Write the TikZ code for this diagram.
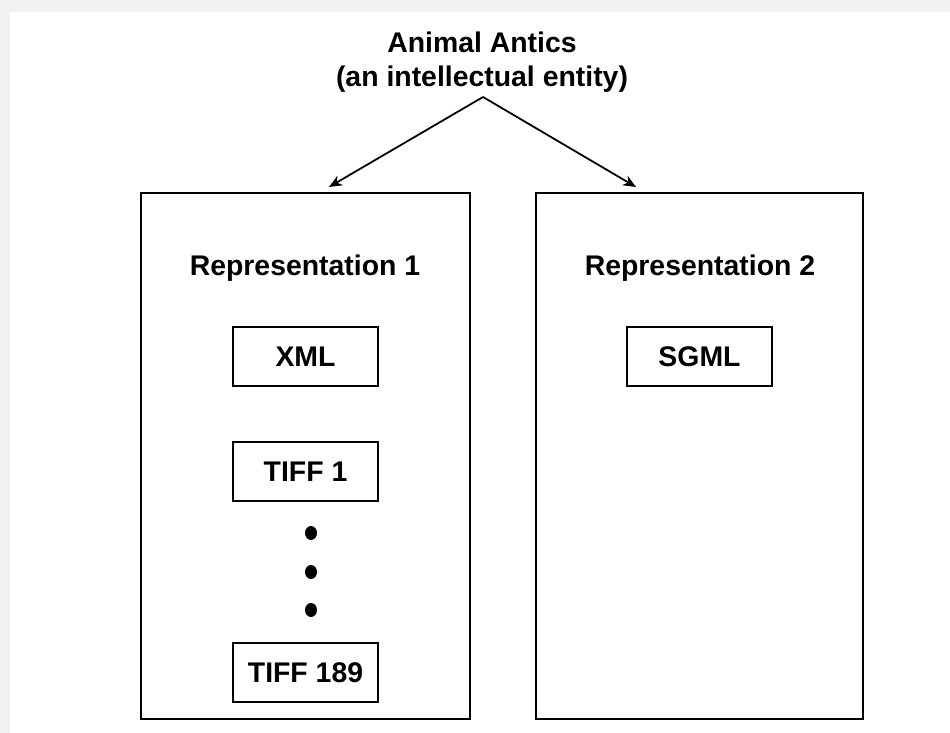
\documentclass[tikz,border=0pt]{standalone}
\usepackage{fontspec}
\setmainfont{Liberation Sans}
\usetikzlibrary{arrows.meta,shapes.geometric}
\definecolor{bggray}{HTML}{F1F1F1}
\begin{document}
\begin{tikzpicture}[x=1pt,y=-1pt,
  txt/.style={font=\fontsize{28.4}{34}\selectfont\bfseries, inner sep=0pt},
  outerbox/.style={draw, line width=2.4pt},
  innerbox/.style={draw, line width=2pt, minimum width=145pt, minimum height=59pt,
    inner sep=0pt, text height=20.3pt, text depth=0pt,
    font=\fontsize{28.4}{34}\selectfont\bfseries},
  dotmark/.style={fill=black, draw=none, ellipse, minimum width=12pt, minimum height=14pt, inner sep=0pt},
  conn/.style={line width=1.8pt, -{Stealth[length=13pt,width=11pt]}}]
\useasboundingbox (0,0) rectangle (950,733);
\fill[bggray] (0,0) rectangle (950,733);
\fill[white] (10,12) rectangle (950,733);
% title
\node[txt, anchor=base] (title1) at (482,53) {Animal Antics};
\node[txt, anchor=base] (title2) at (482,87) {(an intellectual entity)};
% outer boxes
\node[outerbox, minimum width=329pt, minimum height=526pt, inner sep=0pt] (rep1) at (305.5,456) {};
\node[outerbox, minimum width=327pt, minimum height=526pt, inner sep=0pt] (rep2) at (699.5,456) {};
\node[txt, anchor=base] (rep1label) at (305,275) {Representation 1};
\node[txt, anchor=base] (rep2label) at (700,275) {Representation 2};
% inner boxes
\node[innerbox] (xml) at (305.5,356.5) {XML};
\node[innerbox] (tiff1) at (305.5,471.5) {TIFF 1};
\node[innerbox] (tiff189) at (305.5,672.5) {TIFF 189};
\node[innerbox] (sgml) at (699.5,356.5) {SGML};
% dots
\node[dotmark] (d1) at (311,533) {};
\node[dotmark] (d2) at (311,572) {};
\node[dotmark] (d3) at (311,610) {};
% connectors
\coordinate (apex) at (483,97);
\coordinate (a1) at (329,187);
\coordinate (a2) at (636,187);
\draw[conn] (apex) -- (a1);
\draw[conn] (apex) -- (a2);
\end{tikzpicture}
\end{document}
